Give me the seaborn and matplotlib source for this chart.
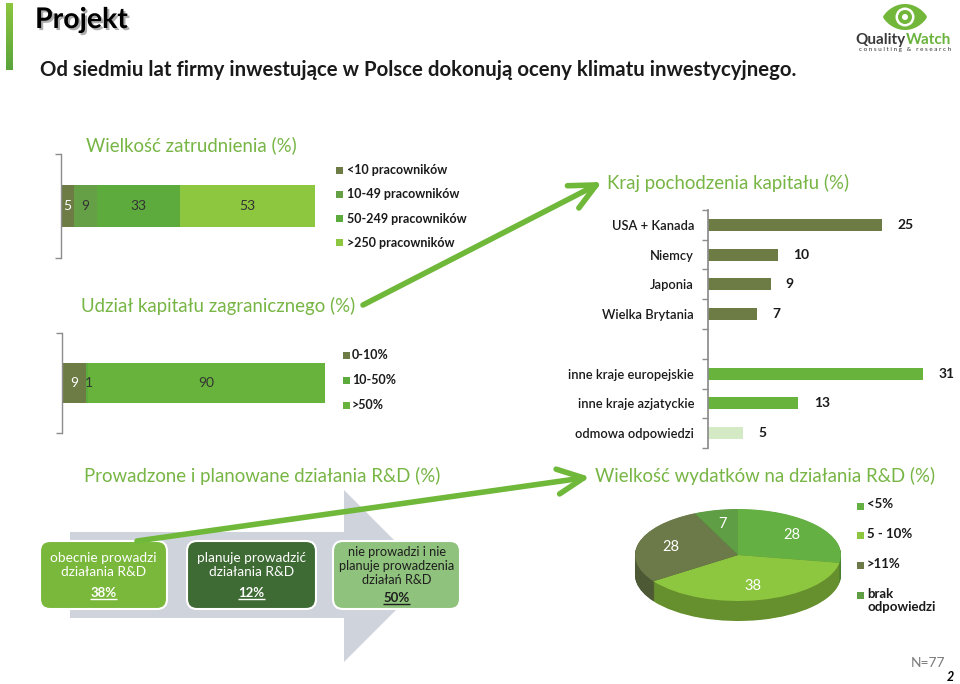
import numpy as np
import pandas as pd
import matplotlib
matplotlib.use('Agg')
import matplotlib.pyplot as plt
import seaborn as sns
from matplotlib.patches import FancyBboxPatch, Polygon, Circle, Rectangle
from matplotlib.colors import LinearSegmentedColormap, to_rgb
import matplotlib.patheffects as pe

# ---------------- data ----------------
emp_labels = ['<10 pracowników', '10-49 pracowników', '50-249 pracowników', '>250 pracowników']
emp_values = [5, 9, 33, 53]

cap_labels = ['0-10%', '10-50%', '>50%']
cap_values = [9, 1, 90]

country_labels = ['USA + Kanada', 'Niemcy', 'Japonia', 'Wielka Brytania',
                  'inne kraje europejskie', 'inne kraje azjatyckie', 'odmowa odpowiedzi']
country_values = [25, 10, 9, 7, 31, 13, 5]

rd_labels = ['obecnie prowadzi\ndziałania R&D', 'planuje prowadzić\ndziałania R&D',
             'nie prowadzi i nie\nplanuje prowadzenia\ndziałań R&D']
rd_values = [38, 12, 50]

spend_labels = ['<5%', '5 - 10%', '>11%', 'brak\nodpowiedzi']
spend_values = [28, 38, 28, 7]

# ---------------- style ----------------
W, H = 960, 684
sns.set_theme(style='white')
plt.rcParams['font.family'] = ['Lato', 'DejaVu Sans']

OLIVE = '#6d7c45'
G_MID = '#66a046'
G_50 = '#5dab3c'
G_LIGHT = '#8dc63f'
G_BAR = '#68b33c'
G_PALE = '#d4eac4'
TITLE_G = '#77b544'
ARROW_G = '#6fb83a'
TXT = '#1a1a1a'
AXC = '#8c8c8c'
TITLE_FS = 13.4

fig = plt.figure(figsize=(9.6, 6.84), dpi=100)
fig.patch.set_facecolor('white')

bg = fig.add_axes([0, 0, 1, 1])
bg.set_xlim(0, W); bg.set_ylim(H, 0); bg.axis('off')
bg.set_autoscale_on(False)


def pax(x0, y0, x1, y1):
    a = fig.add_axes([x0 / W, 1 - y1 / H, (x1 - x0) / W, (y1 - y0) / H])
    a.patch.set_alpha(0)
    return a


# ---------------- header ----------------
cmap = LinearSegmentedColormap.from_list('g', ['#8dc63f', '#5aa43c'])
bg.imshow(np.linspace(0, 1, 50).reshape(-1, 1), extent=(6, 13, 70, 3), aspect='auto', cmap=cmap, zorder=1)
bg.text(35, 20, 'Projekt', fontsize=20.5, fontweight='bold', color='black', va='center', ha='left',
        path_effects=[pe.withSimplePatchShadow(offset=(1.5, -1.5), shadow_rgbFace='#999999', alpha=0.8)])
bg.text(40, 70, 'Od siedmiu lat firmy inwestujące w Polsce dokonują oceny klimatu inwestycyjnego.',
        fontsize=14.7, fontweight='bold', color=TXT, va='center', ha='left')

# logo
t = np.linspace(-22, 22, 80)
hh = 13 * (1 - (t / 22) ** 2) ** 0.8
bg.add_patch(Polygon(np.r_[np.c_[905 + t, 17 - hh], np.c_[905 + t[::-1], 17 + hh[::-1]]],
                     closed=True, color='#72b73a', lw=0, zorder=2))
bg.add_patch(Circle((905, 17), 9.5, color='white', lw=0, zorder=3))
bg.add_patch(Circle((905, 17), 7, color='#72b73a', lw=0, zorder=4))
bg.add_patch(Circle((905, 17), 3, color='white', lw=0, zorder=5))
bg.text(906, 40, 'Quality', fontsize=11, fontweight='bold', color='#3a3a3a', ha='right', va='center')
bg.text(906, 40, 'Watch', fontsize=11, fontweight='bold', color='#6ab33c', ha='left', va='center')
bg.text(905, 50, 'c o n s u l t i n g   &   r e s e a r c h', fontsize=4.5, color='#333333',
        ha='center', va='center')

# ---------------- chart 1: employment ----------------
bg.text(191, 145, 'Wielkość zatrudnienia (%)', fontsize=TITLE_FS, color=TITLE_G, ha='center', va='center')
ax1 = pax(61, 154, 315, 258)
emp_colors = [OLIVE, G_MID, G_50, G_LIGHT]
emp_tc = ['white', '#333333', '#333333', '#333333']
left = 0
for val, col, tc in zip(emp_values, emp_colors, emp_tc):
    ax1.barh(0, val, left=left, height=0.404, color=col, linewidth=0)
    ax1.text(left + val / 2, 0, str(val), ha='center', va='center', color=tc, fontsize=10)
    left += val
ax1.set_xlim(0, 100); ax1.set_ylim(-0.5, 0.5)


def style_stack(a):
    for s in ['top', 'right', 'bottom']:
        a.spines[s].set_visible(False)
    a.spines['left'].set_color(AXC)
    a.spines['left'].set_linewidth(1)
    a.set_xticks([])
    a.set_yticks([-0.5, 0.5])
    a.set_yticklabels([])
    a.tick_params(axis='y', left=True, length=4, color=AXC, direction='out', width=1)


style_stack(ax1)

for i, (lab, col) in enumerate(zip(emp_labels, emp_colors)):
    y = 170 + i * 24.3
    bg.add_patch(Rectangle((336, y - 3.5), 7, 7, color=col, lw=0))
    bg.text(347, y, lab, fontsize=9, fontweight='bold', color=TXT, ha='left', va='center')

# ---------------- chart 2: foreign capital ----------------
bg.text(218, 306, 'Udział kapitału zagranicznego (%)', fontsize=TITLE_FS, color=TITLE_G, ha='center', va='center')
ax2 = pax(62, 333, 325, 433)
cap_colors = [OLIVE, G_50, G_BAR]
cap_tc = ['white', '#333333', '#333333']
cap_off = [0, 0.6, 0]
left = 0
for val, col, tc, off in zip(cap_values, cap_colors, cap_tc, cap_off):
    ax2.barh(0, val, left=left, height=0.4, color=col, linewidth=0)
    ax2.text(left + val / 2 + off, 0, str(val), ha='center', va='center', color=tc, fontsize=10)
    left += val
ax2.set_xlim(0, 100); ax2.set_ylim(-0.5, 0.5)
style_stack(ax2)

for i, (lab, col) in enumerate(zip(cap_labels, cap_colors)):
    y = 355 + i * 25
    bg.add_patch(Rectangle((343, y - 3.5), 7, 7, color=col, lw=0))
    bg.text(352, y, lab, fontsize=9, fontweight='bold', color=TXT, ha='left', va='center')

# ---------------- chart 3: country of origin ----------------
bg.text(728, 183, 'Kraj pochodzenia kapitału (%)', fontsize=TITLE_FS, color=TITLE_G, ha='center', va='center')
ax3 = pax(708, 210, 958, 448)
df = pd.DataFrame({'kraj': country_labels, 'wartosc': country_values})
order = country_labels[:4] + [' '] + country_labels[4:]
palette = dict(zip(country_labels, [OLIVE] * 4 + [G_BAR] * 2 + [G_PALE]))
sns.barplot(data=df, y='kraj', x='wartosc', hue='kraj', order=order, hue_order=country_labels,
            palette=palette, legend=False, width=0.4, orient='h', ax=ax3, linewidth=0, saturation=1)
for c in ax3.containers:
    ax3.bar_label(c, padding=11, fontsize=10, fontweight='bold', color=TXT)
ax3.set_xlim(0, 250 / 6.95)
ax3.set_ylim(7.5, -0.5)
ax3.set_xlabel(''); ax3.set_ylabel('')
ax3.set_xticks([])
for s in ['top', 'right', 'bottom']:
    ax3.spines[s].set_visible(False)
ax3.spines['left'].set_color(AXC)
ax3.set_yticks(range(len(order)))
ax3.set_yticklabels(order, fontweight='semibold')
ax3.set_yticks(np.arange(-0.5, len(order), 1), minor=True)
ax3.tick_params(axis='y', which='major', length=0, pad=10, labelsize=9.3, labelcolor=TXT)
ax3.tick_params(axis='y', which='minor', left=True, length=4, color=AXC, width=1, direction='out')

# ---------------- chart 4: R&D activity ----------------
bg.text(262, 476, 'Prowadzone i planowane działania R&D (%)', fontsize=TITLE_FS, color=TITLE_G,
        ha='center', va='center')
bg.add_patch(Polygon([(70, 532), (344, 532), (344, 490), (430, 576), (344, 662), (344, 618), (70, 618)],
                     closed=True, color='#cfd3dc', lw=0, zorder=1))
box_x = [(40, 167), (187, 316), (333, 460)]
box_col = ['#7ab83b', '#3e6a34', '#8fc27d']
box_tc = ['white', 'white', '#1e1e1e']
pct_artists = []
for (x0, x1), lab, val, col, tc in zip(box_x, rd_labels, rd_values, box_col, box_tc):
    bg.add_patch(FancyBboxPatch((x0, 541), x1 - x0, 68, boxstyle='round,pad=0,rounding_size=10',
                                facecolor=col, edgecolor='white', lw=1.5, zorder=2))
    nl = lab.count('\n') + 1
    cx = (x0 + x1) / 2
    if nl == 2:
        bg.text(cx, 565, lab, fontsize=9.8, color=tc, ha='center', va='center', linespacing=1.2, zorder=3)
        py = 593
    else:
        bg.text(cx, 566, lab, fontsize=9.2, color=tc, ha='center', va='center', linespacing=1.15, zorder=3)
        py = 598
    pt = bg.text(cx, py, f'{val}%', fontsize=9.5, fontweight='bold', color=tc, ha='center', va='center', zorder=3)
    pct_artists.append((pt, tc))

# ---------------- chart 5: pie ----------------
bg.text(765, 476, 'Wielkość wydatków na działania R&D (%)', fontsize=TITLE_FS, color=TITLE_G,
        ha='center', va='center')
axp = pax(635, 509, 841, 621)
spend_colors = ['#64b042', '#8dc63f', '#6b7a48', '#5f9e45']
side_colors = [tuple(np.array(to_rgb(c)) * 0.72) for c in spend_colors]
depth = 20 / 46
for d in np.linspace(depth, 0.01, 30):
    axp.pie(spend_values, colors=side_colors, startangle=90, counterclock=False,
            center=(0, -d), wedgeprops=dict(linewidth=0))
wedges, texts = axp.pie(spend_values, colors=spend_colors, startangle=90, counterclock=False,
                        labels=[str(v) for v in spend_values], labeldistance=0.68,
                        textprops=dict(color='white', fontsize=10.5), wedgeprops=dict(linewidth=0))
for tx in texts:
    tx.set_ha('center'); tx.set_va('center')
axp.set_aspect('auto')
axp.set_xlim(-1, 1)
axp.set_ylim(-1 - depth, 1)
axp.axis('off')

for i, (lab, col) in enumerate(zip(spend_labels, spend_colors)):
    y = 506 + i * 29.7
    bg.add_patch(Rectangle((857, y - 3.5), 7, 7, color=col, lw=0))
    bg.text(867, y - 7.5, lab, fontsize=9.5, fontweight='bold', color=TXT, ha='left', va='top', linespacing=1.15)

# ---------------- footer ----------------
bg.text(928, 663, 'N=77', fontsize=10, color='#7a7a7a', ha='center', va='center')
bg.text(950, 677, '2', fontsize=9, fontweight='bold', style='italic', color='black', ha='center', va='center')

# ---------------- connector arrows ----------------
top = fig.add_axes([0, 0, 1, 1])
top.set_xlim(0, W); top.set_ylim(H, 0); top.axis('off'); top.patch.set_alpha(0)
for (xs, ys), (xe, ye) in [((363, 305), (602, 182)), ((137, 541), (590, 477))]:
    top.annotate('', xy=(xe, ye), xytext=(xs, ys),
                 arrowprops=dict(arrowstyle='->,head_length=1.25,head_width=0.6', lw=4,
                                 color=ARROW_G, mutation_scale=15, shrinkA=0, shrinkB=0))

# underline percentages
fig.canvas.draw()
inv = bg.transData.inverted()
for pt, tc in pct_artists:
    bb = pt.get_window_extent()
    (x0, y0), (x1, y1) = inv.transform([[bb.x0, bb.y0], [bb.x1, bb.y1]])
    bg.plot([x0, x1], [y0 - 0.5, y0 - 0.5], color=tc, lw=1, zorder=3, solid_capstyle='butt')
bg.set_xlim(0, W); bg.set_ylim(H, 0)

fig.savefig('out.png', dpi=100, facecolor='white')
